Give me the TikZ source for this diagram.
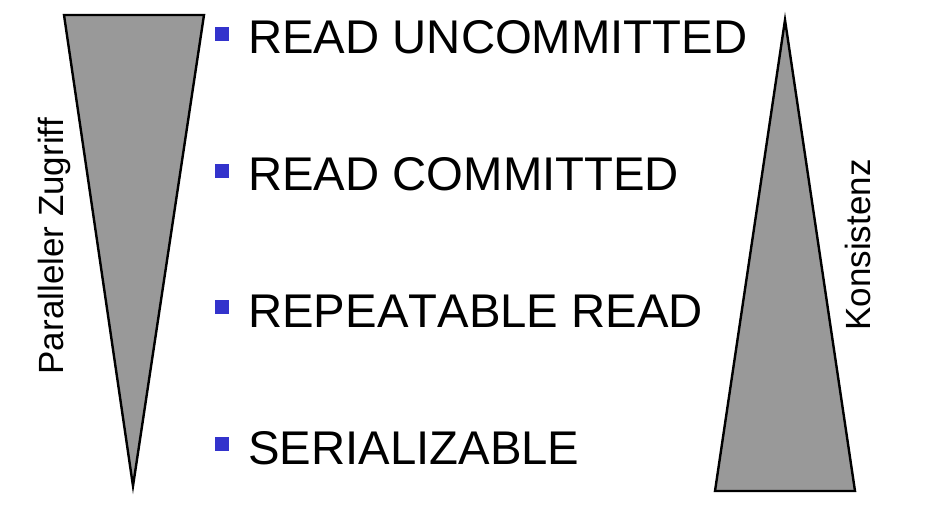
\documentclass[tikz,border=0pt]{standalone}
\usepackage{fontspec}
\setmainfont{Liberation Sans}[Kerning=Off]
\definecolor{tri}{HTML}{999999}
\definecolor{bul}{HTML}{3333CC}
\begin{document}
\begin{tikzpicture}[x=1pt,y=-1pt,
  trishape/.style={fill=tri,draw=black,line width=2.4pt,line join=miter},
  item/.style={anchor=base west,inner sep=0pt,font=\fontsize{47.3}{47.3}\selectfont},
  side/.style={anchor=base,inner sep=0pt,rotate=90,font=\fontsize{35}{35}\selectfont},
  bullet/.style={fill=bul,draw=none,minimum size=14pt,inner sep=0pt}]
\useasboundingbox (0,0) rectangle (942,513);
\draw[trishape] (64,15) -- (204,15) -- (133,486) -- cycle;
\draw[trishape] (785,20) -- (855,491) -- (715,491) -- cycle;
\node[side] (par) at (63,246) {Paralleler Zugriff};
\node[side] (kon) at (870,245) {Konsistenz};
\foreach \i/\t/\y in {1/READ UNCOMMITTED/54,2/READ COMMITTED/191,3/REPEATABLE READ/327,4/SERIALIZABLE/464}{
  \node[bullet] (b\i) at (222,\y-20) {};
  \node[item] (t\i) at (248,\y) {\t};
}
\end{tikzpicture}
\end{document}
